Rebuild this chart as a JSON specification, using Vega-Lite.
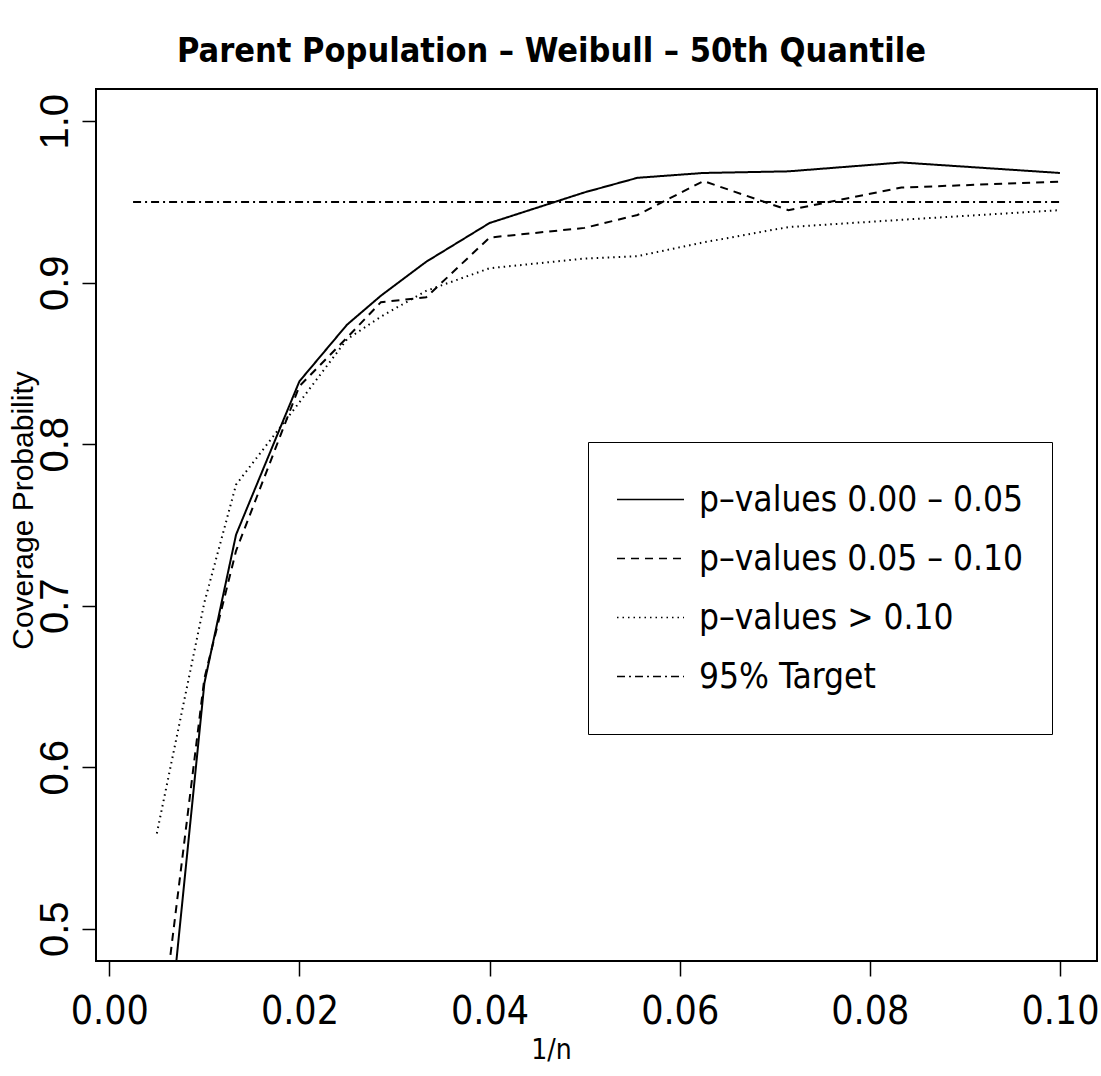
{
  "$schema": "https://vega.github.io/schema/vega-lite/v6.json",
  "width": 1001,
  "height": 872,
  "autosize": "none",
  "padding": {"left": 96, "top": 89, "right": 4, "bottom": 115},
  "background": "white",
  "config": {
    "view": {"stroke": "black", "strokeWidth": 2},
    "axis": {"grid": false, "domain": false, "tickColor": "black", "tickWidth": 1.5, "labelColor": "black", "titleColor": "black", "titleFontWeight": "normal"}
  },
  "title": {
    "text": "Parent Population – Weibull – 50th Quantile",
    "font": "'DejaVu Sans Condensed', 'Liberation Sans', sans-serif",
    "fontSize": 34,
    "fontWeight": "bold",
    "color": "black",
    "anchor": "middle",
    "frame": "group",
    "dx": -45,
    "baseline": "alphabetic",
    "offset": -7
  },
  "data": {
    "values": [
      {"x": 0.005, "y": 0.36, "series": "p–values 0.00 – 0.05"},
      {"x": 0.01, "y": 0.652, "series": "p–values 0.00 – 0.05"},
      {"x": 0.013333, "y": 0.744, "series": "p–values 0.00 – 0.05"},
      {"x": 0.02, "y": 0.839, "series": "p–values 0.00 – 0.05"},
      {"x": 0.025, "y": 0.874, "series": "p–values 0.00 – 0.05"},
      {"x": 0.028571, "y": 0.892, "series": "p–values 0.00 – 0.05"},
      {"x": 0.033333, "y": 0.913, "series": "p–values 0.00 – 0.05"},
      {"x": 0.04, "y": 0.937, "series": "p–values 0.00 – 0.05"},
      {"x": 0.05, "y": 0.956, "series": "p–values 0.00 – 0.05"},
      {"x": 0.055556, "y": 0.965, "series": "p–values 0.00 – 0.05"},
      {"x": 0.0625, "y": 0.968, "series": "p–values 0.00 – 0.05"},
      {"x": 0.071429, "y": 0.969, "series": "p–values 0.00 – 0.05"},
      {"x": 0.083333, "y": 0.9745, "series": "p–values 0.00 – 0.05"},
      {"x": 0.1, "y": 0.968, "series": "p–values 0.00 – 0.05"},

      {"x": 0.005, "y": 0.415, "series": "p–values 0.05 – 0.10"},
      {"x": 0.01, "y": 0.655, "series": "p–values 0.05 – 0.10"},
      {"x": 0.013333, "y": 0.734, "series": "p–values 0.05 – 0.10"},
      {"x": 0.02, "y": 0.836, "series": "p–values 0.05 – 0.10"},
      {"x": 0.025, "y": 0.866, "series": "p–values 0.05 – 0.10"},
      {"x": 0.028571, "y": 0.888, "series": "p–values 0.05 – 0.10"},
      {"x": 0.033333, "y": 0.891, "series": "p–values 0.05 – 0.10"},
      {"x": 0.04, "y": 0.928, "series": "p–values 0.05 – 0.10"},
      {"x": 0.05, "y": 0.934, "series": "p–values 0.05 – 0.10"},
      {"x": 0.055556, "y": 0.942, "series": "p–values 0.05 – 0.10"},
      {"x": 0.0625, "y": 0.963, "series": "p–values 0.05 – 0.10"},
      {"x": 0.071429, "y": 0.945, "series": "p–values 0.05 – 0.10"},
      {"x": 0.083333, "y": 0.959, "series": "p–values 0.05 – 0.10"},
      {"x": 0.1, "y": 0.9626, "series": "p–values 0.05 – 0.10"},

      {"x": 0.005, "y": 0.559, "series": "p–values > 0.10"},
      {"x": 0.01, "y": 0.702, "series": "p–values > 0.10"},
      {"x": 0.013333, "y": 0.775, "series": "p–values > 0.10"},
      {"x": 0.02, "y": 0.826, "series": "p–values > 0.10"},
      {"x": 0.025, "y": 0.865, "series": "p–values > 0.10"},
      {"x": 0.028571, "y": 0.879, "series": "p–values > 0.10"},
      {"x": 0.033333, "y": 0.895, "series": "p–values > 0.10"},
      {"x": 0.04, "y": 0.909, "series": "p–values > 0.10"},
      {"x": 0.05, "y": 0.915, "series": "p–values > 0.10"},
      {"x": 0.055556, "y": 0.9165, "series": "p–values > 0.10"},
      {"x": 0.0625, "y": 0.925, "series": "p–values > 0.10"},
      {"x": 0.071429, "y": 0.9345, "series": "p–values > 0.10"},
      {"x": 0.083333, "y": 0.939, "series": "p–values > 0.10"},
      {"x": 0.1, "y": 0.945, "series": "p–values > 0.10"},

      {"x": 0.0025, "y": 0.95, "series": "95% Target"},
      {"x": 0.1, "y": 0.95, "series": "95% Target"}
    ]
  },
  "mark": {"type": "line", "clip": true, "color": "black", "strokeWidth": 2},
  "encoding": {
    "x": {
      "field": "x", "type": "quantitative",
      "scale": {"domain": [-0.0014, 0.1039], "nice": false, "zero": false},
      "axis": {
        "values": [0, 0.02, 0.04, 0.06, 0.08, 0.1], "format": ".2f",
        "labelFont": "'DejaVu Sans Condensed', 'Liberation Sans', sans-serif", "labelFontSize": 39,
        "tickSize": 15, "labelPadding": 16, "labelBaseline": "top",
        "title": "1/n", "titleFont": "'DejaVu Sans Condensed', 'Liberation Sans', sans-serif", "titleFontSize": 28,
        "titleX": 455, "titleY": 89, "titleBaseline": "middle"
      }
    },
    "y": {
      "field": "y", "type": "quantitative",
      "scale": {"domain": [0.48, 1.02], "nice": false, "zero": false},
      "axis": {
        "values": [0.5, 0.6, 0.7, 0.8, 0.9, 1.0], "format": ".1f",
        "labelFont": "Liberation Sans", "labelFontSize": 40, "labelAngle": -90,
        "labelAlign": "center", "labelBaseline": "alphabetic",
        "tickSize": 14, "labelPadding": 15,
        "title": "Coverage Probability", "titleFont": "Liberation Sans", "titleFontSize": 30,
        "titleX": -73, "titleY": 421, "titleBaseline": "middle", "titleAngle": -90
      }
    },
    "strokeDash": {
      "field": "series", "type": "nominal",
      "scale": {
        "domain": ["p–values 0.00 – 0.05", "p–values 0.05 – 0.10", "p–values > 0.10", "95% Target"],
        "range": [[1, 0], [8, 6], [1.5, 4], [8, 4, 2, 4]]
      },
      "legend": {
        "title": null,
        "orient": "none", "legendX": 492, "legendY": 353,
        "strokeColor": "black", "fillColor": "white", "padding": 28,
        "symbolType": "stroke", "symbolSize": 4489, "symbolStrokeColor": "black", "symbolStrokeWidth": 1.5,
        "labelFont": "'DejaVu Sans Condensed', 'Liberation Sans', sans-serif", "labelFontSize": 35, "labelColor": "black",
        "labelOffset": 14, "clipHeight": 59, "rowPadding": 0, "labelLimit": 500
      }
    }
  }
}
